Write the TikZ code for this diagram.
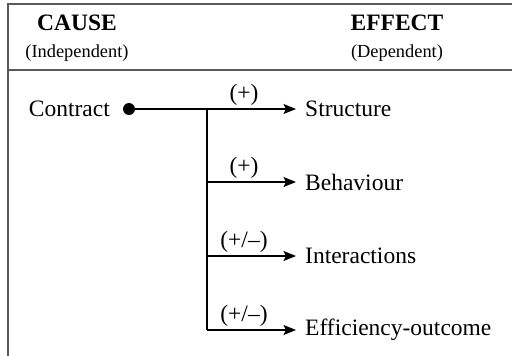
\documentclass[tikz,border=0pt]{standalone}
\usepackage{fontspec}
\setmainfont{Liberation Serif}
\usetikzlibrary{arrows.meta}
\begin{document}
\begin{tikzpicture}[x=1pt, y=-1pt,
  frame/.style={draw=black!65, line width=1.6pt},
  head/.style={font=\fontsize{23.5}{26}\selectfont\bfseries, inner sep=0pt},
  sub/.style={font=\fontsize{18.4}{21}\selectfont, inner sep=0pt},
  word/.style={font=\fontsize{23.5}{26}\selectfont, inner sep=0pt},
  sign/.style={font=\fontsize{23.5}{26}\selectfont, inner sep=0pt},
  dot/.style={circle, fill=black, inner sep=0pt, minimum size=12pt},
  link/.style={line width=1.3pt},
  arrow/.style={link, -{Stealth[length=12.5pt, width=10pt, inset=2.5pt]}, shorten >=9pt}
]
\useasboundingbox (0,0) rectangle (512,356);

% table frame: left rule, top rule and header divider
\coordinate (tl) at (8,4);
\coordinate (tr) at (512,4);
\coordinate (ml) at (8,70);
\coordinate (mr) at (512,70);
\coordinate (bl) at (8,356);
\draw[frame] (tr) -- (tl) -- (bl);
\draw[frame] (ml) -- (mr);

% column headings
\node[head] (cause) at (77,23) {CAUSE};
\node[sub] (indep) at (77,53) {(Independent)};
\node[head] (effect) at (397,23) {EFFECT};
\node[sub] (dep) at (397,53) {(Dependent)};

% cause
\node[word, anchor=east] (contract) at (110,109) {Contract};
\node[dot] (src) at (129,109) {};

% branch points on the vertical trunk
\coordinate (j1) at (207,109);
\coordinate (j2) at (207,182);
\coordinate (j3) at (207,256);
\coordinate (j4) at (207,330);

% effects
\node[word, anchor=west] (structure) at (305,109) {Structure};
\node[word, anchor=west] (behaviour) at (305,182) {Behaviour};
\node[word, anchor=west] (interactions) at (305,256) {Interactions};
\node[word, anchor=west] (efficiency) at (305,330) {Efficiency-outcome};

% connectors
\draw[link] (j1) -- (j4);
\draw[arrow] (src) -- (structure.west);
\draw[arrow] (j2) -- (behaviour.west);
\draw[arrow] (j3) -- (interactions.west);
\draw[arrow] (j4) -- (efficiency.west);

% signs of the effects
\node[sign] (s1) at (244,95) {(+)};
\node[sign] (s2) at (244,168) {(+)};
\node[sign] (s3) at (244,242) {(+/–)};
\node[sign] (s4) at (244,316) {(+/–)};
\end{tikzpicture}
\end{document}
